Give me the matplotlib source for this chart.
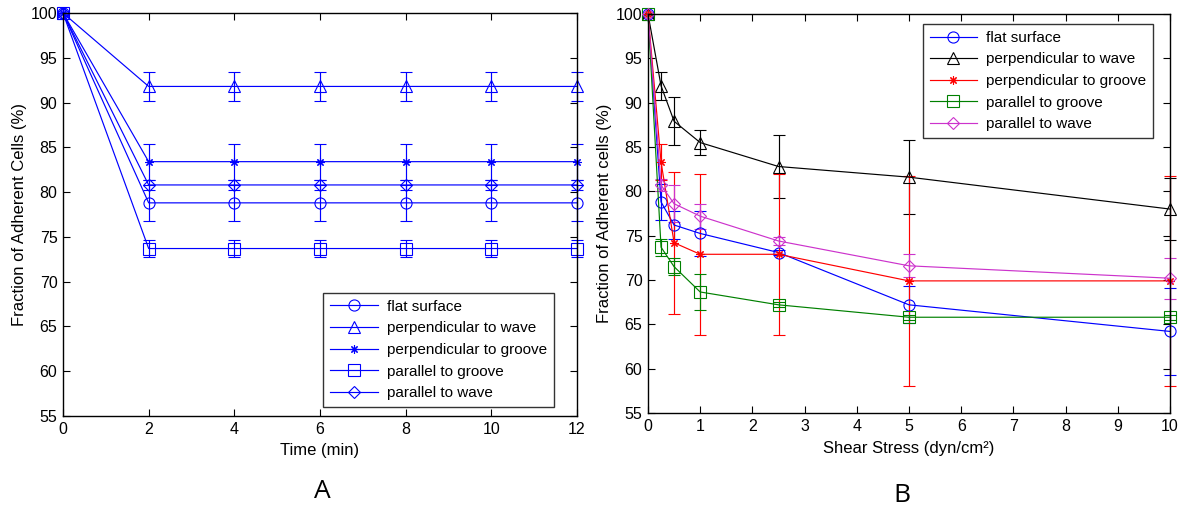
import matplotlib.pyplot as plt

plt.rcParams['font.family'] = ['Liberation Sans', 'DejaVu Sans']

# Panel A: fraction of adherent cells over time
time_min = [0, 2, 4, 6, 8, 10, 12]
a_flat = [100, 78.8, 78.8, 78.8, 78.8, 78.8, 78.8]
a_flat_err = [0, 2.0, 2.0, 2.0, 2.0, 2.0, 2.0]
a_perp_wave = [100, 91.8, 91.8, 91.8, 91.8, 91.8, 91.8]
a_perp_wave_err = [0, 1.6, 1.6, 1.6, 1.6, 1.6, 1.6]
a_perp_groove = [100, 83.4, 83.4, 83.4, 83.4, 83.4, 83.4]
a_perp_groove_err = [0, 2.0, 2.0, 2.0, 2.0, 2.0, 2.0]
a_par_groove = [100, 73.7, 73.7, 73.7, 73.7, 73.7, 73.7]
a_par_groove_err = [0, 0.95, 0.95, 0.95, 0.95, 0.95, 0.95]
a_par_wave = [100, 80.8, 80.8, 80.8, 80.8, 80.8, 80.8]
a_par_wave_err = [0, 0.6, 0.6, 0.6, 0.6, 0.6, 0.6]

# Panel B: fraction of adherent cells vs shear stress
shear = [0, 0.25, 0.5, 1, 2.5, 5, 10]
b_flat = [100, 78.8, 76.2, 75.25, 73.1, 67.2, 64.2]
b_flat_err = [0, 2.0, 1.6, 2.5, 0.3, 2.1, 4.9]
b_perp_wave = [100, 91.9, 87.9, 85.5, 82.8, 81.6, 78.0]
b_perp_wave_err = [0, 1.6, 2.7, 1.4, 3.5, 4.2, 3.5]
b_perp_groove = [100, 83.3, 74.2, 72.9, 72.9, 69.9, 69.9]
b_perp_groove_err = [0, 2.0, 8.0, 9.1, 9.1, 11.8, 11.8]
b_par_groove = [100, 73.7, 71.5, 68.65, 67.2, 65.8, 65.8]
b_par_groove_err = [0, 0.95, 0.95, 2.0, 0.3, 0.3, 0.3]
b_par_wave = [100, 80.7, 78.6, 77.2, 74.4, 71.6, 70.2]
b_par_wave_err = [0, 0.7, 2.1, 1.4, 0.5, 1.3, 2.3]

labels = ['flat surface', 'perpendicular to wave', 'perpendicular to groove',
          'parallel to groove', 'parallel to wave']
markers = ['o', '^', (8, 2, 0), 's', 'D']
msizes = [8, 9, 6, 8, 6.5]
colors_b = ['#0000ff', '#000000', '#ff0000', '#008000', '#cc33cc']

fig = plt.figure(figsize=(11.89, 5.12), dpi=100)
axA = fig.add_axes([63 / 1189, 96 / 512, 514 / 1189, 403 / 512])
axB = fig.add_axes([648 / 1189, 99 / 512, 522 / 1189, 399 / 512])


def draw_series(ax, x, series, colors):
    handles = []
    for (y, err), m, ms, c in zip(series, markers, msizes, colors):
        cont = ax.errorbar(x, y, yerr=err, color=c, marker=m, markersize=ms,
                           markerfacecolor='none', markeredgecolor=c,
                           markeredgewidth=0.8, linewidth=0.85,
                           elinewidth=0.85, capsize=4.5, capthick=0.85,
                           clip_on=False)
        handles.append(cont.lines[0])
    return handles


series_a = [(a_flat, a_flat_err), (a_perp_wave, a_perp_wave_err),
            (a_perp_groove, a_perp_groove_err), (a_par_groove, a_par_groove_err),
            (a_par_wave, a_par_wave_err)]
series_b = [(b_flat, b_flat_err), (b_perp_wave, b_perp_wave_err),
            (b_perp_groove, b_perp_groove_err), (b_par_groove, b_par_groove_err),
            (b_par_wave, b_par_wave_err)]

hA = draw_series(axA, time_min, series_a, ['#0000ff'] * 5)
hB = draw_series(axB, shear, series_b, colors_b)

for ax in (axA, axB):
    ax.set_ylim(55, 100)
    ax.set_yticks(range(55, 101, 5))
    ax.tick_params(direction='in', top=True, right=True, length=5,
                   width=0.8, labelsize=11.5, pad=4)
    for s in ax.spines.values():
        s.set_linewidth(1.0)

axA.set_xlim(0, 12)
axA.set_xticks(range(0, 13, 2))
axB.set_xlim(0, 10)
axB.set_xticks(range(0, 11))

axA.set_xlabel('Time (min)', fontsize=12, labelpad=5)
axA.set_ylabel('Fraction of Adherent Cells (%)', fontsize=12, labelpad=3)
axB.set_xlabel('Shear Stress (dyn/cm²)', fontsize=12, labelpad=5)
axB.set_ylabel('Fraction of Adherent cells (%)', fontsize=12, labelpad=3)

leg_kw = dict(fontsize=11, frameon=True, fancybox=False, handlelength=3.1,
              borderpad=0.45, labelspacing=0.5, handletextpad=0.6,
              borderaxespad=0.0)
legA = axA.legend(hA, labels, loc='lower right', bbox_to_anchor=(0.955, 0.022),
                  **leg_kw)
legB = axB.legend(hB, labels, loc='upper right', bbox_to_anchor=(0.968, 0.975),
                  **leg_kw)
for leg in (legA, legB):
    leg.get_frame().set_edgecolor('black')
    leg.get_frame().set_linewidth(1.0)

fig.text(322 / 1189, 1 - 492 / 512, 'A', fontsize=19, family='Open Sans',
         ha='center', va='center')
fig.text(902 / 1189, 1 - 495 / 512, 'B', fontsize=19, family='Open Sans',
         ha='center', va='center')

fig.savefig('out.png', dpi=100)
